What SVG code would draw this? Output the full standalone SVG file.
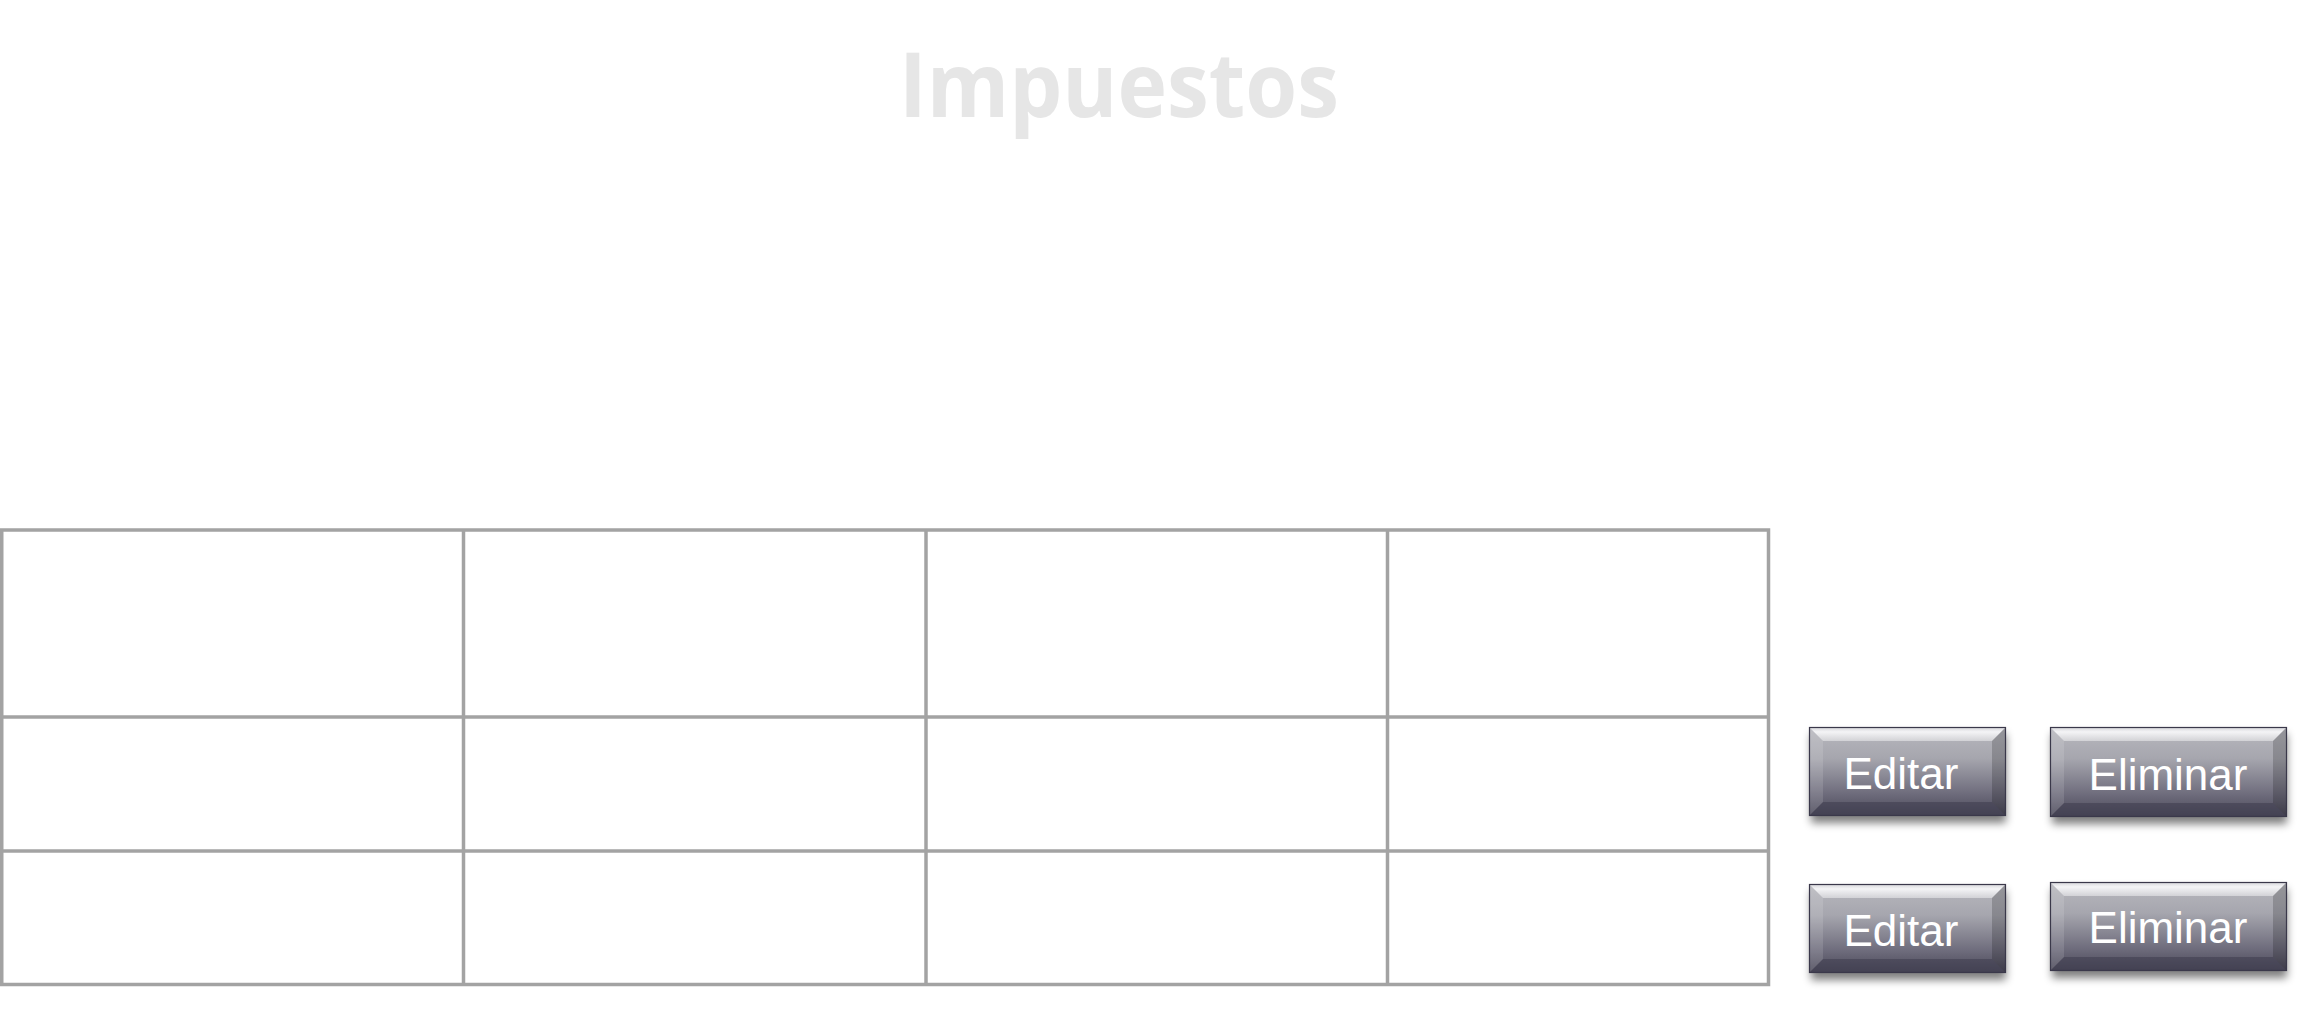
<svg xmlns="http://www.w3.org/2000/svg" width="2304" height="1009" viewBox="0 0 2304 1009">
<defs>
<style>
.grid{stroke:#a3a3a3;stroke-width:3.5;fill:none}
.title{font-family:"Open Sans","Noto Sans",sans-serif;font-weight:700;font-size:90px;fill:#e6e6e6}
.btxt{font-family:"Liberation Sans",Arial,sans-serif;font-size:44px;fill:#ffffff}
.top{fill:url(#gtop)}
.bot{fill:#3e3c4e;opacity:0.55}
.lft{fill:#ffffff;opacity:0.12}
.rgt{fill:#000000;opacity:0.18}
.edge{fill:none;stroke:#3a384a;stroke-width:1.2}
</style>
<linearGradient id="bg" x1="0" y1="0" x2="0" y2="1">
<stop offset="0" stop-color="#b8b8be"/>
<stop offset="0.35" stop-color="#a6a6ae"/>
<stop offset="0.75" stop-color="#6e6c7c"/>
<stop offset="1" stop-color="#4a4858"/>
</linearGradient>
<linearGradient id="gtop" x1="0" y1="0" x2="0" y2="1">
<stop offset="0" stop-color="#d4d4d8"/>
<stop offset="0.35" stop-color="#f4f4f6"/>
<stop offset="1" stop-color="#d2d2d6"/>
</linearGradient>
<filter id="sh" x="-10%" y="-20%" width="120%" height="160%">
<feGaussianBlur stdDeviation="4"/>
</filter>
</defs>
<rect width="2304" height="1009" fill="#ffffff"/>
<text class="title" x="899" y="117" textLength="440" lengthAdjust="spacingAndGlyphs">Impuestos</text>
<g id="table">
<rect class="grid" x="1.75" y="530" width="1766.75" height="454.5"/>
<line class="grid" x1="0" y1="717" x2="1768" y2="717"/>
<line class="grid" x1="0" y1="851" x2="1768" y2="851"/>
<line class="grid" x1="463.5" y1="530" x2="463.5" y2="984"/>
<line class="grid" x1="926" y1="530" x2="926" y2="984"/>
<line class="grid" x1="1387.5" y1="530" x2="1387.5" y2="984"/>
</g>
<g id="connectors"></g>
<g id="btn-editar-1" transform="translate(1809,727)">
<rect x="2" y="7" width="195" height="89" fill="#000" opacity="0.5" filter="url(#sh)"/>
<rect width="197" height="89" fill="url(#bg)"/>
<polygon class="top" points="0,0 197,0 183,14 14,14"/>
<polygon class="bot" points="0,89 197,89 183,75 14,75"/>
<polygon class="lft" points="0,0 14,14 14,75 0,89"/>
<polygon class="rgt" points="197,0 183,14 183,75 197,89"/>
<rect class="edge" x="0.5" y="0.5" width="196" height="88"/>
<text class="btxt" x="92" y="62" text-anchor="middle">Editar</text>
</g>
<g id="btn-eliminar-1" transform="translate(2050,727)">
<rect x="2" y="7" width="235" height="90" fill="#000" opacity="0.5" filter="url(#sh)"/>
<rect width="237" height="90" fill="url(#bg)"/>
<polygon class="top" points="0,0 237,0 223,14 14,14"/>
<polygon class="bot" points="0,90 237,90 223,76 14,76"/>
<polygon class="lft" points="0,0 14,14 14,76 0,90"/>
<polygon class="rgt" points="237,0 223,14 223,76 237,90"/>
<rect class="edge" x="0.5" y="0.5" width="236" height="89"/>
<text class="btxt" x="118" y="63" text-anchor="middle">Eliminar</text>
</g>
<g id="btn-editar-2" transform="translate(1809,884)">
<rect x="2" y="7" width="195" height="89" fill="#000" opacity="0.5" filter="url(#sh)"/>
<rect width="197" height="89" fill="url(#bg)"/>
<polygon class="top" points="0,0 197,0 183,14 14,14"/>
<polygon class="bot" points="0,89 197,89 183,75 14,75"/>
<polygon class="lft" points="0,0 14,14 14,75 0,89"/>
<polygon class="rgt" points="197,0 183,14 183,75 197,89"/>
<rect class="edge" x="0.5" y="0.5" width="196" height="88"/>
<text class="btxt" x="92" y="62" text-anchor="middle">Editar</text>
</g>
<g id="btn-eliminar-2" transform="translate(2050,882)">
<rect x="2" y="7" width="235" height="89" fill="#000" opacity="0.5" filter="url(#sh)"/>
<rect width="237" height="89" fill="url(#bg)"/>
<polygon class="top" points="0,0 237,0 223,14 14,14"/>
<polygon class="bot" points="0,89 237,89 223,75 14,75"/>
<polygon class="lft" points="0,0 14,14 14,75 0,89"/>
<polygon class="rgt" points="237,0 223,14 223,75 237,89"/>
<rect class="edge" x="0.5" y="0.5" width="236" height="88"/>
<text class="btxt" x="118" y="61" text-anchor="middle">Eliminar</text>
</g>
</svg>
